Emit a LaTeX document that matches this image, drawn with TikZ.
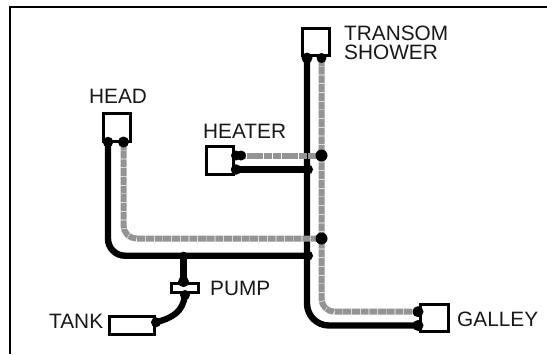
\documentclass[tikz,border=0pt]{standalone}
\usepackage{fontspec}
\setmainfont{Liberation Sans}
\definecolor{hotc}{gray}{0.58}
\tikzset{
  x=1pt,y=-1pt,
  device/.style={draw=black,line width=2.7pt,fill=white,inner sep=0pt},
  lbl/.style={inner sep=0pt,font=\fontsize{20.8pt}{19.3pt}\selectfont,align=left,text=black!90},
  coldp/.style={draw=black,line width=6.4pt,rounded corners=#1},
  coldp/.default=0pt,
  hotp/.style={draw=hotc,line width=6pt,dash pattern=on 8pt off 0.7pt,rounded corners=#1},
  hotp/.default=0pt,
  jn/.style={circle,fill=black,inner sep=0pt,minimum size=#1}
}
\begin{document}
\begin{tikzpicture}
\useasboundingbox (0,0) rectangle (547,354);
\fill[white] (0,0) rectangle (547,354);
\draw[black,line width=2.4pt] (10,354) |- (547,7.2);
% devices
\node[device,minimum width=27.5pt,minimum height=27.5pt] (transom) at (316,42) {};
\node[device,minimum width=27.5pt,minimum height=28.5pt] (head) at (117,127.5) {};
\node[device,minimum width=27.5pt,minimum height=27.5pt] (heater) at (220,160.5) {};
\node[device,minimum width=27.5pt,minimum height=27.5pt] (galley) at (434.5,318) {};
\node[device,minimum width=27.5pt,minimum height=9.5pt] (pump) at (185,288) {};
\node[device,minimum width=45pt,minimum height=18.5pt] (tank) at (132,325.5) {};
% junction coordinates
\coordinate (tc) at (307,58);
\coordinate (th) at (321.5,58);
\coordinate (hc) at (108,142);
\coordinate (hh) at (123.5,142);
\coordinate (htrh) at (238,155.5);
\coordinate (htrc) at (236,169.5);
\coordinate (gh) at (418,311.7);
\coordinate (gc) at (418,325.5);
\coordinate (ph) at (321.5,155.5);
\coordinate (ph2) at (321.5,238.5);
\coordinate (pc) at (308,169.5);
\coordinate (pc2) at (308,255.7);
\coordinate (mj) at (183.5,255.7);
\coordinate (pu) at (183.5,281.7);
\coordinate (pd) at (185,295);
\coordinate (tk) at (156,322.3);
% cold lines
\path[coldp=22pt] (tc) |- (gc);
\path[coldp=17pt] (hc) |- (pc2);
\path[coldp] (htrc) -- (pc);
\path[coldp] (mj) -- (pu);
\path[draw=black,line width=6.2pt] (pd) .. controls (183,312) and (172,318) .. (tk);
% hot lines
\path[hotp=13pt] (th) |- (gh);
\path[hotp=13pt] (hh) |- (ph2);
\path[hotp] (htrh) -- (ph);
% junctions
\foreach \n/\s in {tc/11,th/10,hc/10.5,hh/11,htrc/10.5,gh/11,gc/11,ph/12,ph2/12,pc/10,pc2/10,mj/8,pu/11,pd/10,tk/10}
  \node[jn=\s pt] (j\n) at (\n) {};
\node[jn=10pt] (jhtrh2) at (241,155.5) {};
\node[jn=10pt] (jhtrh) at (236,155.5) {};
% labels
\node[lbl,anchor=base west] (ltransom) at (344,59.3) {TRANSOM\\SHOWER};
\node[lbl,anchor=base west] (lhead) at (89,103) {HEAD};
\node[lbl,anchor=base west] (lheater) at (203,138) {HEATER};
\node[lbl,anchor=base west] (lpump) at (210,295) {PUMP};
\node[lbl,anchor=base west] (ltank) at (49,328) {TANK};
\node[lbl,anchor=base west] (lgalley) at (457,326.7) {GALLEY};
\end{tikzpicture}
\end{document}
